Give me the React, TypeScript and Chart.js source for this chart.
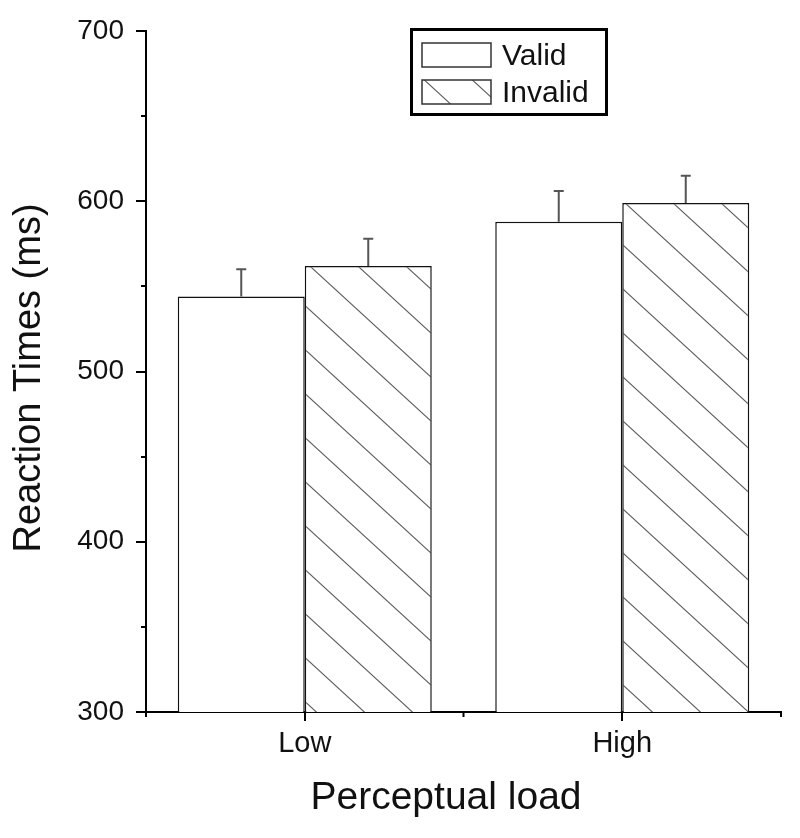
import React, { useEffect, useRef } from 'react';
import { Chart, registerables } from 'chart.js';

Chart.register(...registerables);

// ---- data ----
const categories = ['Low', 'High'];
const seriesLabels = ['Valid', 'Invalid'];
const validMeans = [544, 588];
const invalidMeans = [562, 599];
const validErrors = [16, 18];
const invalidErrors = [16, 16];
const yMin = 300;
const yMax = 700;
const yStep = 100;
const yMinorTicks = [350, 450, 550, 650];
const yTitle = 'Reaction Times (ms)';
const xTitle = 'Perceptual load';

const FONT = '"Liberation Sans", Arial, Helvetica, sans-serif';

function makeHatch(ctx: CanvasRenderingContext2D, offsetY: number) {
  const c = document.createElement('canvas');
  c.width = 48;
  c.height = 44;
  const g = c.getContext('2d') as CanvasRenderingContext2D;
  g.fillStyle = '#ffffff';
  g.fillRect(0, 0, 48, 44);
  g.strokeStyle = '#5a5a5a';
  g.lineWidth = 1.1;
  const s = 44 / 48;
  for (let k = -2; k <= 2; k++) {
    const b = 26 + 44 * k;
    g.beginPath();
    g.moveTo(-2, b - 2 * s);
    g.lineTo(50, b + 50 * s);
    g.stroke();
  }
  const p = ctx.createPattern(c, 'repeat') as CanvasPattern;
  if (offsetY && (p as any).setTransform) {
    p.setTransform(new DOMMatrix().translate(0, offsetY));
  }
  return p;
}

export default function App() {
  const ref = useRef<HTMLCanvasElement | null>(null);

  useEffect(() => {
    const canvas = ref.current;
    if (!canvas) return;
    const ctx0 = canvas.getContext('2d') as CanvasRenderingContext2D;
    const hatch = makeHatch(ctx0, 0);
    const legendHatch = makeHatch(ctx0, 17);
    const errorSets = [validErrors, invalidErrors];

    const decor = {
      id: 'decor',
      afterDatasetsDraw(chart: any) {
        const ctx = chart.ctx as CanvasRenderingContext2D;
        const y = chart.scales.y;
        ctx.save();
        ctx.strokeStyle = '#555555';
        ctx.lineWidth = 2;
        errorSets.forEach((errs, di) => {
          const meta = chart.getDatasetMeta(di);
          meta.data.forEach((bar: any, i: number) => {
            const v = chart.data.datasets[di].data[i] as number;
            const top = y.getPixelForValue(v + errs[i]);
            const base = y.getPixelForValue(v);
            ctx.beginPath();
            ctx.moveTo(bar.x, base);
            ctx.lineTo(bar.x, top);
            ctx.moveTo(bar.x - 5, top);
            ctx.lineTo(bar.x + 5, top);
            ctx.stroke();
          });
        });
        ctx.restore();
      },
      afterDraw(chart: any) {
        const ctx = chart.ctx as CanvasRenderingContext2D;
        const area = chart.chartArea;
        const y = chart.scales.y;
        const x = chart.scales.x;
        ctx.save();
        // minor ticks
        ctx.strokeStyle = '#000';
        ctx.lineWidth = 2;
        yMinorTicks.forEach((v) => {
          const py = Math.round(y.getPixelForValue(v));
          ctx.beginPath();
          ctx.moveTo(area.left, py);
          ctx.lineTo(area.left - 5, py);
          ctx.stroke();
        });
        const xMinor = [
          area.left,
          (x.getPixelForValue(0) + x.getPixelForValue(1)) / 2,
          area.right,
        ];
        xMinor.forEach((px) => {
          ctx.beginPath();
          ctx.moveTo(px, area.bottom);
          ctx.lineTo(px, area.bottom + 5);
          ctx.stroke();
        });

        // legend
        ctx.lineWidth = 3;
        ctx.strokeStyle = '#000';
        ctx.fillStyle = '#fff';
        ctx.fillRect(411.5, 29.5, 195, 85);
        ctx.strokeRect(411.5, 29.5, 195, 85);
        ctx.lineWidth = 1.5;
        ctx.strokeStyle = '#333';
        ctx.fillStyle = '#fff';
        ctx.fillRect(422, 43, 69, 24);
        ctx.strokeRect(422, 43, 69, 24);
        ctx.fillStyle = legendHatch;
        ctx.fillRect(422, 80, 69, 24);
        ctx.strokeRect(422, 80, 69, 24);
        ctx.fillStyle = '#111';
        ctx.font = `30px ${FONT}`;
        ctx.textAlign = 'left';
        ctx.textBaseline = 'alphabetic';
        ctx.fillText(seriesLabels[0], 502, 65);
        ctx.fillText(seriesLabels[1], 502, 102);

        // axis titles
        ctx.font = `39px ${FONT}`;
        ctx.textAlign = 'center';
        ctx.fillText(xTitle, 446, 809);
        ctx.font = `38px ${FONT}`;
        ctx.save();
        ctx.translate(40, 378);
        ctx.rotate(-Math.PI / 2);
        ctx.fillText(yTitle, 0, 0);
        ctx.restore();
        ctx.restore();
      },
    };

    const chart = new Chart(canvas, {
      type: 'bar',
      data: {
        labels: categories,
        datasets: [
          {
            label: seriesLabels[0],
            data: validMeans,
            backgroundColor: '#ffffff',
            borderColor: '#111111',
            borderWidth: 1.5,
            barPercentage: 1,
            categoryPercentage: 0.8,
          },
          {
            label: seriesLabels[1],
            data: invalidMeans,
            backgroundColor: hatch,
            borderColor: '#111111',
            borderWidth: 1.5,
            barPercentage: 1,
            categoryPercentage: 0.8,
          },
        ],
      },
      options: {
        animation: false,
        responsive: true,
        maintainAspectRatio: false,
        layout: { padding: { left: 0, right: 19, top: 31, bottom: 0 } },
        plugins: {
          legend: { display: false },
          tooltip: { enabled: false },
        },
        scales: {
          x: {
            type: 'category',
            offset: true,
            afterFit: (s: any) => {
              s.height = 126;
            },
            grid: {
              offset: false,
              drawOnChartArea: false,
              drawTicks: true,
              tickLength: 9,
              color: '#000',
              lineWidth: 2,
            },
            border: { color: '#000', width: 2 },
            ticks: {
              color: '#111',
              font: { family: FONT, size: 29 },
              padding: 6,
              maxRotation: 0,
            },
          },
          y: {
            min: yMin,
            max: yMax,
            afterFit: (s: any) => {
              s.width = 146;
            },
            grid: {
              drawOnChartArea: false,
              drawTicks: true,
              tickLength: 10,
              color: '#000',
              lineWidth: 2,
            },
            border: { color: '#000', width: 2 },
            ticks: {
              stepSize: yStep,
              color: '#111',
              font: { family: FONT, size: 28 },
              padding: 12,
            },
          },
        },
      },
      plugins: [decor],
    } as any);

    return () => chart.destroy();
  }, []);

  return (
    <div style={{ position: 'fixed', left: 0, top: 0, width: 800, height: 838, background: '#fff' }}>
      <canvas ref={ref} />
    </div>
  );
}
